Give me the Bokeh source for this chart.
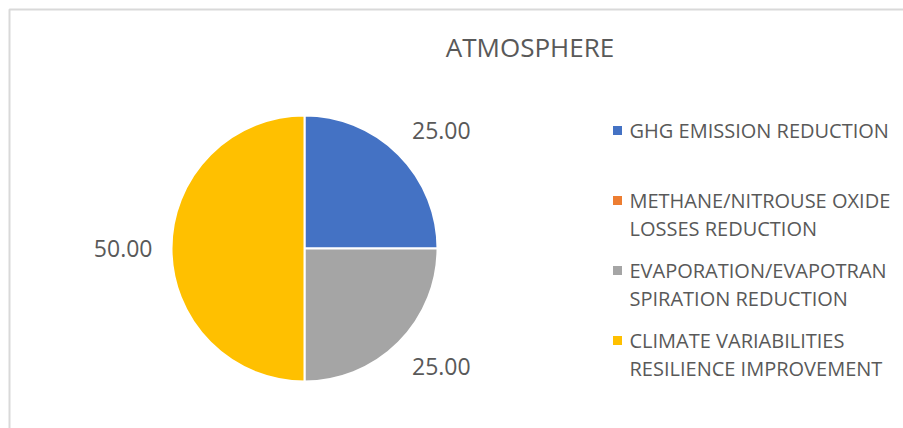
import numpy as np
from bokeh.plotting import figure
from bokeh.models import ColumnDataSource, Range1d
from bokeh.core.properties import value
from bokeh.embed import file_html
from bokeh.resources import INLINE

# ---- data ----
title = "ATMOSPHERE"
categories = [
    "GHG EMISSION REDUCTION",
    "METHANE/NITROUSE OXIDE LOSSES REDUCTION",
    "EVAPORATION/EVAPOTRANSPIRATION REDUCTION",
    "CLIMATE VARIABILITIES RESILIENCE IMPROVEMENT",
]
legend_lines = [
    ["GHG EMISSION REDUCTION"],
    ["METHANE/NITROUSE OXIDE", "LOSSES REDUCTION"],
    ["EVAPORATION/EVAPOTRAN", "SPIRATION REDUCTION"],
    ["CLIMATE VARIABILITIES", "RESILIENCE IMPROVEMENT"],
]
values = [25.0, 0.0, 25.0, 50.0]
colors = ["#4472C4", "#ED7D31", "#A5A5A5", "#FFC000"]

# ---- layout ----
W, H = 903, 428
FONT = "Open Sans"
TEXT_COLOR = "#595959"
cx, cy_px, radius = 304, 248, 133


def Y(px):
    """Convert a top-down pixel row into the y-up plot coordinate."""
    return H - px


p = figure(width=W, height=H, x_range=Range1d(0, W), y_range=Range1d(0, H),
           x_axis_type=None, y_axis_type=None, min_border=0,
           toolbar_location=None, output_backend="svg")
p.grid.visible = False
p.outline_line_color = None
p.background_fill_color = "white"
p.border_fill_color = "white"

# chart-area border
p.quad(left=[9], right=[W + 20], top=[Y(9)], bottom=[-20],
       fill_color=None, line_color="#D9D9D9", line_width=2)

# ---- pie ----
vals = np.array(values)
frac = vals / vals.sum()
cum_end = np.cumsum(frac)
cum_start = cum_end - frac
start = np.pi / 2 - 2 * np.pi * cum_start
end = np.pi / 2 - 2 * np.pi * cum_end
keep = vals > 0

wedges = ColumnDataSource(dict(
    start=start[keep], end=end[keep],
    color=[c for c, k in zip(colors, keep) if k],
))
p.wedge(x=cx, y=Y(cy_px), radius=radius, start_angle="start", end_angle="end",
        direction="clock", fill_color="color", line_color="white",
        line_width=2, source=wedges)

# data labels outside the pie
mid = np.pi / 2 - 2 * np.pi * (cum_start + frac / 2)
rx, ry = 152, 167
for v, th, k in zip(values, mid, keep):
    if not k:
        continue
    c = np.cos(th)
    align = "left" if c > 0.01 else ("right" if c < -0.01 else "center")
    p.text(x=[cx + rx * c], y=[Y(cy_px) + ry * np.sin(th)], text=[f"{v:.2f}"],
           text_font=value(FONT), text_font_size="23px", text_color=TEXT_COLOR,
           text_align=align, text_baseline="middle")

# title
p.text(x=[529.5], y=[Y(46)], text=[title], text_font=value(FONT),
       text_font_size="26px", text_color=TEXT_COLOR,
       text_align="center", text_baseline="middle")

# ---- legend ----
leg_x_sq, leg_x_txt = 617, 629
first_mid, entry_step, line_step = 130, 70, 27.5
for i, (lines, col) in enumerate(zip(legend_lines, colors)):
    row = first_mid + entry_step * i
    p.rect(x=[leg_x_sq], y=[Y(row)], width=9, height=9,
           fill_color=col, line_color=None)
    for j, ln in enumerate(lines):
        p.text(x=[leg_x_txt], y=[Y(row + line_step * j)], text=[ln],
               text_font=value(FONT), text_font_size="20px",
               text_color=TEXT_COLOR, text_align="left",
               text_baseline="middle")

open("out.html", "w").write(file_html(p, INLINE))
